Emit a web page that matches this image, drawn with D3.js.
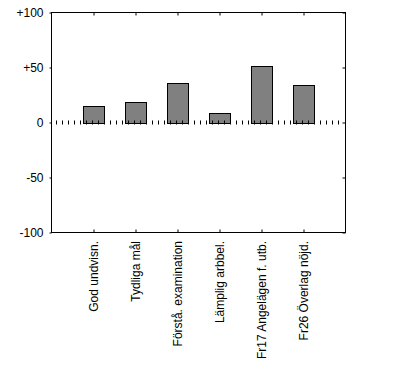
<!DOCTYPE html>
<html><head><meta charset="utf-8">
<script src="https://cdn.jsdelivr.net/npm/d3@7"></script>
<style>body{margin:0;background:#fff}svg{display:block}text{font-family:"Liberation Sans",Arial,sans-serif;font-size:12px;fill:#000}</style>
</head><body><svg id="c" width="395" height="366"></svg>
<script>
const categories = ["God undvisn.", "Tydliga mål", "Förstå. examination", "Lämplig arbbel.", "Fr17 Angelägen f. utb.", "Fr26 Överlag nöjd."];
const values = [15, 19, 36, 8.5, 51, 34];
const yTicks = [-100, -50, 0, 50, 100];
const yTickLabels = ["-100", "-50", "0", "+50", "+100"];

const svg = d3.select("#c");
const L = 51.5, R = 345.5, T = 12.5, B = 232.5;
const x = d3.scalePoint().domain(categories).range([L, R]).padding(1);
const y = d3.scaleLinear().domain([-100, 100]).range([B, T]);
const bw = x.step() / 2;

// bars
svg.append("g").selectAll("rect").data(values).join("rect")
  .attr("x", (d, i) => Math.round(x(categories[i]) - bw / 2) + 0.5)
  .attr("y", d => Math.round(y(d)) + 0.5)
  .attr("width", Math.round(bw))
  .attr("height", d => Math.round(y(0)) - Math.round(y(d)))
  .attr("fill", "#808080").attr("stroke", "#000").attr("stroke-width", 1);

// zero dotted line
svg.append("line").attr("x1", 56).attr("x2", R - 2).attr("y1", Math.round(y(0)) - 0.5).attr("y2", Math.round(y(0)) - 0.5)
  .attr("stroke", "#000").attr("stroke-width", 4).attr("stroke-dasharray", "1,5");

// frame
svg.append("rect").attr("x", L).attr("y", T).attr("width", R - L).attr("height", B - T)
  .attr("fill", "none").attr("stroke", "#000").attr("stroke-width", 1);

// axes
const gl = svg.append("g").attr("transform", `translate(${L},0)`)
  .call(d3.axisLeft(y).tickValues(yTicks).tickSize(2).tickPadding(6).tickFormat((d, i) => yTickLabels[i]));
const gr = svg.append("g").attr("transform", `translate(${R},0)`)
  .call(d3.axisRight(y).tickValues(yTicks).tickSize(-3).tickFormat(""));
const gt = svg.append("g").attr("transform", `translate(0,${T})`)
  .call(d3.axisTop(x).tickSize(-3).tickFormat(""));
const gb = svg.append("g").attr("transform", `translate(0,${B})`)
  .call(d3.axisBottom(x).tickSize(-3).tickFormat(""));
[gl, gr, gt, gb].forEach(g => {
  g.select(".domain").remove();
  g.selectAll("line").attr("stroke", "#000");
  g.selectAll("text").style("font-family", '"Liberation Sans",Arial,sans-serif').style("font-size", "12px").attr("fill", "#000");
});

// x labels
svg.append("g").selectAll("text").data(categories).join("text")
  .attr("transform", d => `translate(${x(d)},241) rotate(-90)`)
  .attr("text-anchor", "end").attr("dy", "0.35em").text(d => d);
</script></body></html>
